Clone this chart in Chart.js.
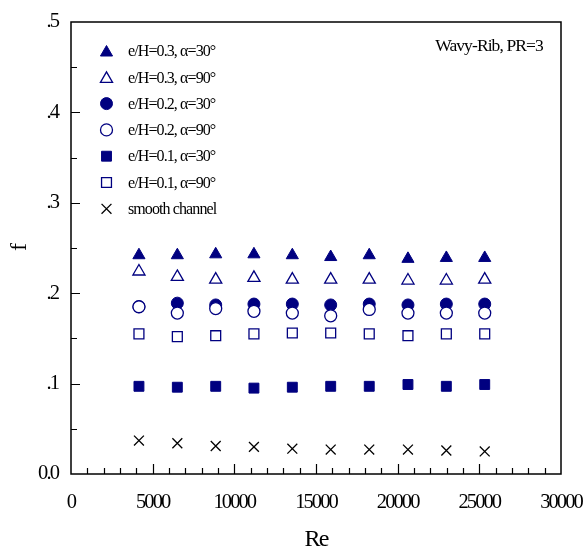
<!DOCTYPE html>
<html>
<head>
<meta charset="utf-8">
<script src="https://cdn.jsdelivr.net/npm/chart.js@4/dist/chart.umd.min.js"></script>
<style>
html,body{margin:0;padding:0;background:#fff;}
#wrap{width:584px;height:547px;position:relative;}
</style>
</head>
<body>
<div id="wrap"><canvas id="c" width="584" height="547"></canvas></div>
<script>
// ---- data ----
const reValues = [4160, 6510, 8860, 11200, 13550, 15900, 18260, 20630, 22980, 25330];
const fRib03a30 = [0.242, 0.242, 0.243, 0.243, 0.242, 0.240, 0.242, 0.238, 0.239, 0.239];
const fRib03a90 = [0.224, 0.218, 0.215, 0.217, 0.215, 0.215, 0.215, 0.214, 0.214, 0.215];
const fRib02a30 = [0.185, 0.189, 0.187, 0.188, 0.188, 0.187, 0.188, 0.187, 0.188, 0.188];
const fRib02a90 = [0.185, 0.178, 0.183, 0.180, 0.178, 0.175, 0.182, 0.178, 0.178, 0.178];
const fRib01a30 = [0.097, 0.096, 0.097, 0.095, 0.096, 0.097, 0.097, 0.099, 0.097, 0.099];
const fRib01a90 = [0.155, 0.152, 0.153, 0.155, 0.156, 0.156, 0.155, 0.153, 0.155, 0.155];
const fSmooth   = [0.037, 0.034, 0.031, 0.030, 0.028, 0.027, 0.027, 0.027, 0.026, 0.025];
const seriesLabels = ['e/H=0.3, \u03b1=30\u00b0','e/H=0.3, \u03b1=90\u00b0','e/H=0.2, \u03b1=30\u00b0','e/H=0.2, \u03b1=90\u00b0','e/H=0.1, \u03b1=30\u00b0','e/H=0.1, \u03b1=90\u00b0','smooth channel'];
const xTickValues = [0, 5000, 10000, 15000, 20000, 25000, 30000];
const yTickValues = [0, 0.1, 0.2, 0.3, 0.4, 0.5];
const annotationText = 'Wavy-Rib, PR=3';

const NAVY = '#000080';
const pts = arr => arr.map((v, i) => ({x: reValues[i], y: v}));

const styles = [
  {data: fRib03a30, pointStyle: 'triangle', filled: true, r: 7, order: 2},
  {data: fRib03a90, pointStyle: 'triangle', filled: false, r: 7, order: 1},
  {data: fRib02a30, pointStyle: 'circle', filled: true, r: 6, order: 2},
  {data: fRib02a90, pointStyle: 'circle', filled: false, r: 6, order: 1},
  {data: fRib01a30, pointStyle: 'rect', filled: true, r: 7, order: 2},
  {data: fRib01a90, pointStyle: 'rect', filled: false, r: 7, order: 1},
  {data: fSmooth, pointStyle: 'crossRot', filled: false, r: 7, order: 1, color: '#000'}
];

const datasets = styles.map((s, i) => ({
  label: seriesLabels[i],
  data: pts(s.data),
  pointStyle: s.pointStyle,
  pointRadius: s.r,
  pointHoverRadius: s.r,
  pointBorderWidth: s.filled ? 1 : 1.3,
  pointBorderColor: s.color || NAVY,
  pointBackgroundColor: s.filled ? NAVY : '#fff',
  showLine: false,
  order: s.order
}));

const SERIF = '"Liberation Serif", "DejaVu Serif", serif';

const frame = {
  id: 'frame',
  beforeDraw(chart) {
    chart.ctx.letterSpacing = '-1.9px';
  },
  afterDraw(chart) {
    const ctx = chart.ctx;
    const a = chart.chartArea;
    const xs = chart.scales.x, ys = chart.scales.y;
    ctx.save();
    ctx.strokeStyle = '#000';
    ctx.lineWidth = 1.5;
    ctx.strokeRect(a.left, a.top, a.right - a.left, a.bottom - a.top);
    ctx.lineWidth = 1.2;
    ctx.beginPath();
    for (let v = 0; v <= 30000; v += 1000) {
      const px = Math.round(xs.getPixelForValue(v)) + 0.5;
      const len = (v % 5000 === 0) ? 10 : 6;
      if (v === 0 || v === 30000) continue;
      ctx.moveTo(px, a.bottom);
      ctx.lineTo(px, a.bottom - len);
    }
    for (let k = 1; k < 10; k++) {
      const v = k * 0.05;
      const py = Math.round(ys.getPixelForValue(v)) + 0.5;
      const len = (k % 2 === 0) ? 9 : 6;
      ctx.moveTo(a.left, py);
      ctx.lineTo(a.left + len, py);
    }
    ctx.stroke();

    // legend
    ctx.letterSpacing = '-0.9px';
    ctx.font = '16px ' + SERIF;
    ctx.textBaseline = 'middle';
    ctx.textAlign = 'left';
    const mx = a.left + 35.5, tx = a.left + 57, y0 = a.top + 29, dy = 26.3;
    chart.data.datasets.forEach((ds, i) => {
      const y = y0 + i * dy;
      const opts = {
        pointStyle: ds.pointStyle,
        radius: ds.pointRadius,
        borderWidth: ds.pointBorderWidth
      };
      ctx.save();
      ctx.fillStyle = ds.pointBackgroundColor;
      ctx.strokeStyle = ds.pointBorderColor;
      ctx.lineWidth = ds.pointBorderWidth;
      Chart.helpers.drawPoint(ctx, opts, mx, ds.pointStyle === 'triangle' ? y + 1.5 : y);
      ctx.restore();
      ctx.fillStyle = '#000';
      ctx.fillText(ds.label, tx, y + 1);
    });

    // annotation
    ctx.letterSpacing = '-0.9px';
    ctx.font = '17.5px ' + SERIF;
    ctx.textAlign = 'center';
    ctx.fillText(annotationText, 489, 46);
    ctx.restore();
  }
};

new Chart(document.getElementById('c'), {
  type: 'scatter',
  data: {datasets},
  options: {
    responsive: false,
    animation: false,
    devicePixelRatio: 1,
    layout: {padding: {top: 22, right: 23, left: 0, bottom: 0}},
    plugins: {legend: {display: false}, tooltip: {enabled: false}},
    scales: {
      x: {
        type: 'linear',
        min: 0, max: 30000,
        afterBuildTicks: s => { s.ticks = xTickValues.map(v => ({value: v})); },
        afterFit: s => { s.height = 73; s.paddingLeft = 0; s.paddingRight = 0; },
        grid: {display: false},
        border: {display: false},
        ticks: {
          color: '#000',
          padding: 8,
          maxRotation: 0,
          autoSkip: false,
          font: {family: SERIF, size: 20.5},
          callback: v => String(v)
        },
        title: {
          display: true,
          text: 'Re',
          color: '#000',
          font: {family: SERIF, size: 24, lineHeight: 1},
          padding: {top: 0, bottom: -5}
        }
      },
      y: {
        type: 'linear',
        min: 0, max: 0.5,
        afterBuildTicks: s => { s.ticks = yTickValues.map(v => ({value: v})); },
        afterFit: s => { s.width = 71; s.paddingTop = 0; s.paddingBottom = 0; },
        grid: {display: false},
        border: {display: false},
        ticks: {
          color: '#000',
          padding: 5,
          autoSkip: false,
          font: {family: SERIF, size: 20.5},
          callback: v => v === 0 ? '0.0' : '.' + Math.round(v * 10)
        },
        title: {
          display: true,
          text: 'f',
          color: '#000',
          font: {family: SERIF, size: 24, lineHeight: 1},
          padding: {top: 8, bottom: 0}
        }
      }
    }
  },
  plugins: [frame]
});
</script>
</body>
</html>
